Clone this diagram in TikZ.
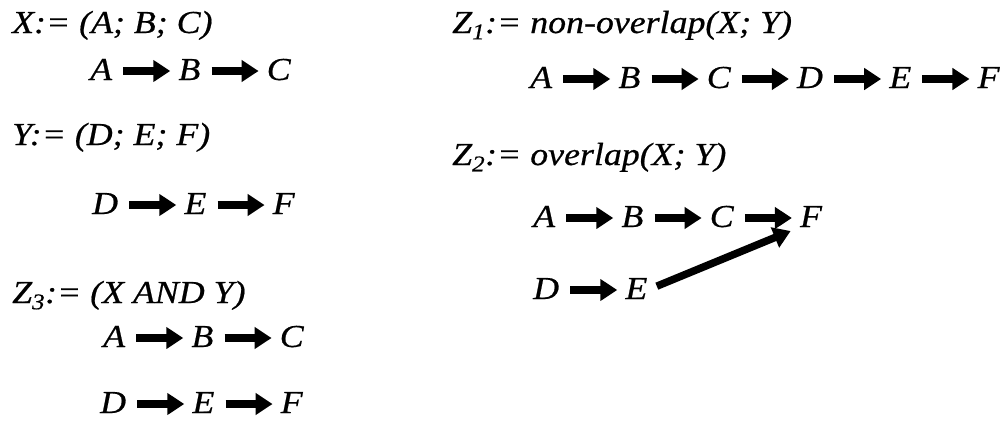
\documentclass[tikz,border=0pt]{standalone}
\usepackage{fontspec}
\setmainfont{Liberation Serif}[FakeStretch=1.12, FakeBold=0.6]
\usepackage{tikz}
\usetikzlibrary{arrows.meta, positioning}
\tikzset{
    letter/.style={inner sep=0pt, text height=18pt, text depth=0pt},
    expr/.style={inner sep=0pt, anchor=base west},
    arrow/.style={-{Triangle[length=17pt, width=21pt]}, line width=7.5pt, shorten <=11pt, shorten >=8pt}
}

\begin{document}
\begin{tikzpicture}[x=1pt, y=-1pt, node distance=66pt, every node/.style={font=\fontsize{32}{38}\selectfont\itshape}]
            \useasboundingbox (0,0) rectangle (1005,421);

            % Definitions
            \node (lx) [expr] at (12,33) {X:= (A; B; C)};
            \node (ly) [expr] at (12,145) {Y:= (D; E; F)};
            \node (lz3) [expr] at (12,303) {Z\textsubscript{3}:= (X AND Y)};
            \node (lz1) [expr] at (452,33) {Z\textsubscript{1}:= non-overlap(X; Y)};
            \node (lz2) [expr] at (452,165) {Z\textsubscript{2}:= overlap(X; Y)};

            % X
            \node (x1) [letter, anchor=base west] at (90,80) {A};
            \node (x2) [letter, base right=of x1] {B};
            \node (x3) [letter, base right=of x2] {C};
            \draw [arrow] (x1) -- (x2);
            \draw [arrow] (x2) -- (x3);

            % Y
            \node (y1) [letter, anchor=base west] at (92,214) {D};
            \node (y2) [letter, base right=of y1] {E};
            \node (y3) [letter, base right=of y2] {F};
            \draw [arrow] (y1) -- (y2);
            \draw [arrow] (y2) -- (y3);

            % Z3: both sequences
            \node (t1) [letter, anchor=base west] at (103,347) {A};
            \node (t2) [letter, base right=of t1] {B};
            \node (t3) [letter, base right=of t2] {C};
            \node (t4) [letter, anchor=base west] at (100,413) {D};
            \node (t5) [letter, base right=of t4] {E};
            \node (t6) [letter, base right=of t5] {F};
            \draw [arrow] (t1) -- (t2);
            \draw [arrow] (t2) -- (t3);
            \draw [arrow] (t4) -- (t5);
            \draw [arrow] (t5) -- (t6);

            % Z1: non-overlap
            \node (n1) [letter, anchor=base west] at (530,88) {A};
            \node (n2) [letter, base right=of n1] {B};
            \node (n3) [letter, base right=of n2] {C};
            \node (n4) [letter, base right=of n3] {D};
            \node (n5) [letter, base right=of n4] {E};
            \node (n6) [letter, base right=of n5] {F};
            \foreach \a/\b in {n1/n2, n2/n3, n3/n4, n4/n5, n5/n6}
                \draw [arrow] (\a) -- (\b);

            % Z2: overlap
            \node (o1) [letter, anchor=base west] at (533,227) {A};
            \node (o2) [letter, base right=of o1] {B};
            \node (o3) [letter, base right=of o2] {C};
            \node (o4) [letter, base right=of o3] {F};
            \node (o5) [letter, anchor=base west] at (533,299) {D};
            \node (o6) [letter, base right=of o5] {E};
            \draw [arrow] (o1) -- (o2);
            \draw [arrow] (o2) -- (o3);
            \draw [arrow] (o3) -- (o4);
            \draw [arrow] (o5) -- (o6);
            \draw [arrow, shorten <=10pt, shorten >=10pt] (o6.east) -- (o4.south west);

		\end{tikzpicture}
\end{document}
